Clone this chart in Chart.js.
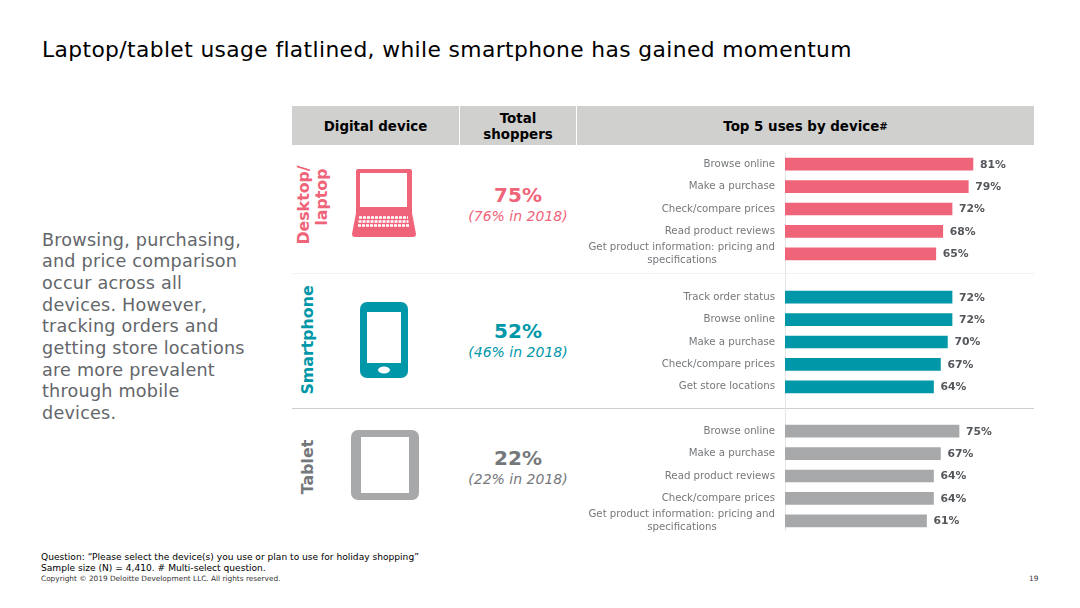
<!DOCTYPE html>
<html>
<head>
<meta charset="utf-8">
<title>Digital device usage</title>
<script src="https://cdn.jsdelivr.net/npm/chart.js@4"></script>
<style>
  body { margin: 0; background: #fff; font-family: "DejaVu Sans", sans-serif; }
  #slide { position: relative; width: 1080px; height: 608px; overflow: hidden; }
  #slide > * { position: absolute; }
  h1 { margin: 0; left: 42px; top: 36px; font-size: 21.8px; letter-spacing: 0.38px; font-weight: normal; color: #000; white-space: nowrap; line-height: 28px; }
  .intro { left: 42px; top: 229.5px; font-size: 17.6px; letter-spacing: 0.22px; line-height: 21.7px; color: #63666a; white-space: nowrap; }
  .head { top: 106px; height: 37px; padding-top: 2px; background: #d0d0ce; display: flex; align-items: center; justify-content: center; text-align: center; font-weight: bold; font-size: 13.4px; line-height: 16px; color: #000; white-space: pre; }
  .head sup { font-size: 10px; line-height: 0; }
  .sep { left: 292px; width: 742px; height: 1px; }
  .total { left: 460px; width: 116px; text-align: center; }
  .total b { display: block; font-size: 20px; line-height: 24px; }
  .total i { display: block; font-size: 14px; line-height: 18px; }
  .device { font-weight: bold; font-size: 15.8px; line-height: 18px; text-align: center; white-space: nowrap; transform: translate(-50%, -50%) rotate(-90deg); }
  .chart { left: 580px; width: 455px; height: 112px; }
  .foot { left: 41px; font-size: 9.1px; color: #000; white-space: nowrap; line-height: 12px; }
  .small { font-size: 7.35px; color: #333; }
</style>
</head>
<body>
<div id="slide">
  <h1>Laptop/tablet usage flatlined, while smartphone has gained momentum</h1>
  <div class="intro">Browsing, purchasing,<br>and price comparison<br>occur across all<br>devices. However,<br>tracking orders and<br>getting store locations<br>are more prevalent<br>through mobile<br>devices.</div>

  <div class="head" style="left:292px;width:167px">Digital device</div>
  <div class="head" style="left:460px;width:116px">Total<br>shoppers</div>
  <div class="head" style="left:577px;width:457px">Top 5 uses by device<sup>#</sup></div>

  <div class="sep" style="top:273px;background:#f1f1f1"></div>
  <div class="sep" style="top:408px;background:#cfcfcf"></div>
  <div style="left:785px;top:153px;width:1px;height:378px;background:#e6e6e6"></div>

  <svg style="left:0;top:0" width="1080" height="608">
    <!-- laptop -->
    <path fill="#f0647a" d="M358 169h52a2 2 0 0 1 2 2v42l4 21a3 3 0 0 1-3 3h-58a3 3 0 0 1-3-3l4-21v-42a2 2 0 0 1 2-2z"/>
    <rect fill="#fff" x="360" y="173" width="47" height="34"/>
    <g stroke="#fff" stroke-width="2.4" stroke-dasharray="3 1">
      <path d="M359 217.500h49M358.500 221.500h50M358 225.500h51"/>
    </g>
    <!-- phone -->
    <rect fill="#0097a9" x="360" y="302" width="48" height="76" rx="7"/>
    <rect fill="#fff" x="367" y="312" width="34" height="51"/>
    <ellipse fill="#fff" cx="384" cy="370" rx="6" ry="3.500"/>
    <!-- tablet -->
    <rect fill="#a7a8aa" x="351" y="430" width="68" height="70" rx="7"/>
    <rect fill="#fff" x="361" y="437" width="48" height="56"/>
  </svg>
</div>

<script>
const secoes = [
  {
    nome: 'Desktop/<br><span style="position:relative;left:8px">laptop</span>', cor: "#f0647a", corTexto: "#f0647a", x: 313, y: 205, topo: 153,
    total: "75%", antes: "(76% in 2018)", totalY: 183,
    usos: [
      ["Browse online", 81],
      ["Make a purchase", 79],
      ["Check/compare prices", 72],
      ["Read product reviews", 68],
      [["Get product information: pricing and", "specifications"], 65]
    ]
  },
  {
    nome: "Smartphone", cor: "#0097a9", corTexto: "#0097a9", x: 308, y: 340, topo: 286,
    total: "52%", antes: "(46% in 2018)", totalY: 319,
    usos: [
      ["Track order status", 72],
      ["Browse online", 72],
      ["Make a purchase", 70],
      ["Check/compare prices", 67],
      ["Get store locations", 64]
    ]
  },
  {
    nome: "Tablet", cor: "#a7a8aa", corTexto: "#75787b", x: 308, y: 467, topo: 419.500,
    total: "22%", antes: "(22% in 2018)", totalY: 446,
    usos: [
      ["Browse online", 75],
      ["Make a purchase", 67],
      ["Read product reviews", 64],
      ["Check/compare prices", 64],
      [["Get product information: pricing and", "specifications"], 61]
    ]
  }
];

const slide = document.getElementById("slide");
const FONTE = '"DejaVu Sans", sans-serif';

// the second line of a wrapped label sits centred under the first one
function centrarRotulo(l) {
  if (!Array.isArray(l)) return l;
  const ctx = document.createElement("canvas").getContext("2d");
  ctx.font = "10.2px " + FONTE;
  const sobra = ctx.measureText(l[0]).width - ctx.measureText(l[1]).width;
  const n = Math.round(sobra / 2 / ctx.measureText("\u00a0").width);
  return [l[0], l[1] + "\u00a0".repeat(n)];
}

const rotuloValor = {
  id: "rotuloValor",
  afterDatasetsDraw(chart) {
    const ctx = chart.ctx;
    const meta = chart.getDatasetMeta(0);
    ctx.save();
    ctx.font = "bold 10.8px " + FONTE;
    ctx.fillStyle = "#53565a";
    ctx.textAlign = "left";
    ctx.textBaseline = "middle";
    meta.data.forEach((bar, i) => {
      ctx.fillText(chart.data.datasets[0].data[i] + "%", bar.x + 7, bar.y + 0.5);
    });
    ctx.restore();
  }
};

secoes.forEach(s => {
  slide.insertAdjacentHTML("beforeend", `
    <div class="device" style="left:${s.x}px;top:${s.y}px;color:${s.corTexto}">${s.nome}</div>
    <div class="total" style="top:${s.totalY}px;color:${s.corTexto}"><b>${s.total}</b><i>${s.antes}</i></div>
  `);

  const box = document.createElement("div");
  box.className = "chart";
  box.style.top = s.topo + "px";
  const canvas = document.createElement("canvas");
  box.appendChild(canvas);
  slide.appendChild(box);

  new Chart(canvas, {
    type: "bar",
    data: {
      labels: s.usos.map(u => centrarRotulo(u[0])),
      datasets: [{
        data: s.usos.map(u => u[1]),
        backgroundColor: s.cor,
        barThickness: 12
      }]
    },
    plugins: [rotuloValor],
    options: {
      indexAxis: "y",
      responsive: true,
      maintainAspectRatio: false,
      animation: false,
      layout: { padding: { right: 18 } },
      plugins: { legend: { display: false }, tooltip: { enabled: false } },
      scales: {
        x: { min: 0, max: 100, display: false },
        y: {
          // fixed gutter, and no extra room for the wrapped labels
          afterFit(scale) {
            scale.width = 205;
            scale.paddingTop = 0;
            scale.paddingBottom = 0;
          },
          grid: { display: false, drawTicks: false },
          border: { display: false },
          ticks: {
            color: "#75787b",
            padding: 10,
            autoSkip: false,
            font: { family: FONTE, size: 10.2, lineHeight: 1.2 }
          }
        }
      }
    }
  });
});

slide.insertAdjacentHTML("beforeend", `
  <div class="foot" style="top:551px">Question: “Please select the device(s) you use or plan to use for holiday shopping”</div>
  <div class="foot" style="top:562px">Sample size (N) = 4,410. # Multi-select question.</div>
  <div class="foot small" style="top:573px">Copyright © 2019 Deloitte Development LLC. All rights reserved.</div>
  <div class="foot small" style="left:1029px;top:573px">19</div>
`);
</script>
</body>
</html>
